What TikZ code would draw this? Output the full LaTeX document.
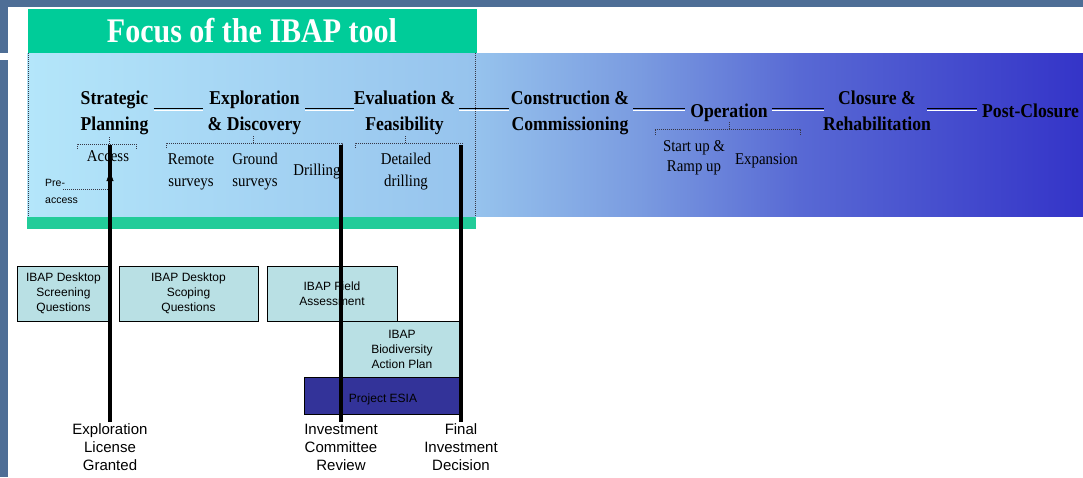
\documentclass[tikz,border=0pt]{standalone}
\usepackage{fontspec}
\usetikzlibrary{arrows.meta}

% Fonts: narrow Times-like serif for the phases, Arial-like sans for the tool boxes
\newfontfamily\phasefont[FakeStretch=0.9]{Liberation Serif}
\newfontfamily\titlefont[FakeStretch=0.87]{Liberation Serif}
\newfontfamily\boxfont{Liberation Sans}

\definecolor{slate}{RGB}{78,110,150}
\definecolor{focusgreen}{RGB}{0,204,153}
\definecolor{focusfoot}{RGB}{34,204,153}
\definecolor{toolbox}{RGB}{185,224,228}
\definecolor{esia}{RGB}{51,51,153}
\definecolor{dotgray}{RGB}{55,55,70}
\definecolor{bandA}{RGB}{180,230,250}
\definecolor{bandB}{RGB}{150,195,237}
\definecolor{bandC}{RGB}{122,155,224}
\definecolor{bandD}{RGB}{88,105,212}
\definecolor{bandE}{RGB}{52,52,200}

% life-cycle band: light cyan on the left fading to deep blue on the right
\pgfdeclarehorizontalshading{phaseband}{100bp}{%
  color(0bp)=(bandA); color(25bp)=(bandA); color(46.2bp)=(bandB);
  color(54bp)=(bandC); color(61.6bp)=(bandD); color(75bp)=(bandE);
  color(100bp)=(bandE)}

% multi-line nodes are placed by the baseline of their last line
\tikzset{
  phase/.style={font=\phasefont\bfseries\fontsize{19.6}{25.5}\selectfont,
    align=center, inner sep=0pt, anchor=base},
  sub/.style={font=\phasefont\fontsize{16.5}{22}\selectfont,
    align=center, inner sep=0pt, anchor=base},
  phaseline/.style={line width=1pt, black,
    preaction={draw=white, line width=1pt, transform canvas={yshift=-2.3pt}}},
  bracket/.style={dotgray, line width=0.7pt, dash pattern=on 1pt off 1pt},
  tool/.style={draw=black, line width=0.8pt, fill=toolbox,
    font=\boxfont\fontsize{12}{15}\selectfont, align=center, inner sep=0pt},
  milestone/.style={line width=3.5pt, black},
  mlabel/.style={font=\boxfont\fontsize{15}{18}\selectfont,
    align=center, inner sep=1pt, anchor=base},
}

\begin{document}
\begin{tikzpicture}[x=1pt,y=-1pt]
\useasboundingbox (0,0) rectangle (1083,477);

% slide frame
\fill[slate] (0,0) rectangle (1083,7);
\fill[slate] (0,0) rectangle (8,477);
\fill[white] (0,53) rectangle (8,60);

% life-cycle band
\fill[shading=phaseband] (27,53) rectangle (1083,216);

% focus frame of the IBAP tool
\node[fill=focusgreen, minimum width=449pt, minimum height=44pt, inner sep=0pt,
      text=white, font=\titlefont\bfseries\fontsize{34.5}{40}\selectfont,
      text height=23pt, text depth=0pt] (focus) at (252,31) {Focus of the IBAP tool};
\fill[focusfoot] (27,217) rectangle (476,229);
\draw[bracket] (28,53) -- (28,217);
\draw[bracket] (475,53) -- (475,217);

% phases
\node[phase] (strat)   at (114.5,130) {Strategic\\Planning};
\node[phase] (expl)    at (254.5,130) {Exploration\\\& Discovery};
\node[phase] (eval)    at (404.5,130) {Evaluation \&\\Feasibility};
\node[phase] (constr)  at (570,130)   {Construction \&\\Commissioning};
\node[phase] (oper)    at (729,117)   {Operation};
\node[phase] (closure) at (877,130)   {Closure \&\\Rehabilitation};
\node[phase] (post)    at (1030.5,117) {Post-Closure};

\coordinate (lineY) at (0,108);
\draw[phaseline, shorten <=5pt, shorten >=5pt]  (strat.east |- lineY)   -- (expl.west |- lineY);
\draw[phaseline, shorten <=4pt, shorten >=0pt]  (expl.east |- lineY)    -- (eval.west |- lineY);
\draw[phaseline, shorten <=4pt, shorten >=2pt]  (eval.east |- lineY)    -- (constr.west |- lineY);
\draw[phaseline, shorten <=4pt, shorten >=5pt]  (constr.east |- lineY)  -- (oper.west |- lineY);
\draw[phaseline, shorten <=4pt, shorten >=-1pt] (oper.east |- lineY)    -- (closure.west |- lineY);
\draw[phaseline, shorten <=-4pt, shorten >=5pt] (closure.east |- lineY) -- (post.west |- lineY);

% sub-stages
\node[sub] (access)   at (108,161)   {Access};
\node[font=\boxfont\fontsize{10.5}{17}\selectfont, align=left, inner sep=0pt,
      anchor=base west] (pre) at (45,203) {Pre-\\access};
\node[sub] (remote)   at (191,186)   {Remote\\surveys};
\node[sub] (ground)   at (255,186)   {Ground\\surveys};
\node[sub] (drill)    at (317,175)   {Drilling};
\node[sub] (detail)   at (406,186)   {Detailed\\drilling};
\node[sub, font=\phasefont\fontsize{16.5}{20}\selectfont] (startup) at (694,171) {Start up \&\\Ramp up};
\node[sub] (expand)   at (766.5,164) {Expansion};

% dotted brackets grouping the sub-stages
\draw[bracket] (77,149) -- (77,144) -- (136,144) -- (136,149);
\draw[bracket] (109,144) -- (109,136);
\draw[bracket] (166,148) -- (166,143) -- (342,143) -- (342,148);
\draw[bracket] (253,143) -- (253,135);
\draw[bracket] (355,148) -- (355,143) -- (462,143) -- (462,148);
\draw[bracket] (405,143) -- (405,135);
\draw[bracket] (655,135) -- (655,129) -- (800,129) -- (800,135);
\draw[bracket] (729,129) -- (729,121);

% IBAP tool components
\node[tool, minimum width=93pt,  minimum height=55pt] (screen) at (63.5,293.5)  {IBAP Desktop\\Screening\\Questions};
\node[tool, minimum width=139pt, minimum height=55pt] (scope)  at (188.5,293.5) {IBAP Desktop\\Scoping\\Questions};
\node[tool, minimum width=130pt, minimum height=55pt] (field)  at (332,293.5)   {IBAP Field\\Assessment};
\node[tool, minimum width=120pt, minimum height=56pt] (bap)    at (402,349)     {IBAP\\Biodiversity\\Action Plan};
\node[tool, fill=esia, minimum width=158pt, minimum height=37pt,
      text height=16pt, text depth=2pt] (esia) at (383,395.5) {Project ESIA};

% decision milestones
\node[mlabel] (lic) at (110,470) {Exploration\\License\\Granted};
\node[mlabel] (icr) at (341,470) {Investment\\Committee\\Review};
\node[mlabel] (fid) at (461,470) {Final\\Investment\\Decision};
\coordinate (licTop) at (110,145);
\coordinate (icrTop) at (341,145);
\coordinate (fidTop) at (461,145);
\draw[milestone] (licTop) -- (lic.north);
\draw[milestone] (icrTop) -- (icr.north);
\draw[milestone] (fidTop) -- (fid.north);

% pre-access leads up to access
\coordinate (preStart) at (63,189);
\coordinate (preEnd) at (108,189);
\coordinate (arrowBase) at (110,184);
\coordinate (accessFoot) at (110,172);
\draw[bracket] (preStart) -- (preEnd);
\draw[black, line width=0.5pt, -{Triangle[length=9pt,width=7pt]}] (arrowBase) -- (accessFoot);
\end{tikzpicture}
\end{document}
